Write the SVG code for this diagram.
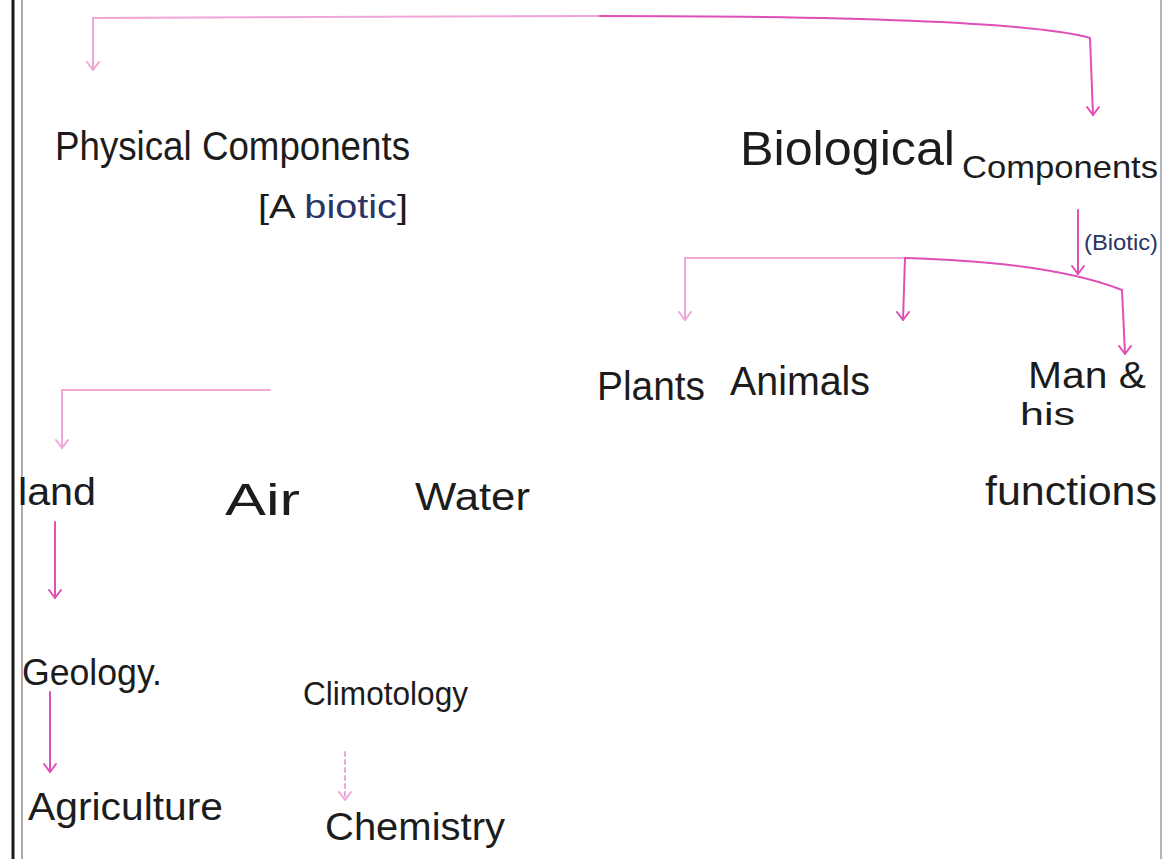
<svg xmlns="http://www.w3.org/2000/svg" width="1170" height="859" viewBox="0 0 1170 859">
<defs>
<style>
.t{font-family:"Liberation Sans","DejaVu Sans",sans-serif;fill:#1c1c1c}
.b{fill:#2a3566}
.c{fill:none;stroke:#e04fb5;stroke-width:2;stroke-linecap:round;stroke-linejoin:round}
.f{opacity:0.5}
.border{stroke-linecap:butt}
</style>
<marker id="ahd" markerWidth="14" markerHeight="12" refX="7" refY="10" orient="0" markerUnits="userSpaceOnUse" viewBox="0 0 14 12">
<path d="M1,2 L7,10 L13,2" fill="none" stroke="#e04fb5" stroke-width="2" stroke-linecap="round" stroke-linejoin="round"/>
</marker>
</defs>
<rect width="1170" height="859" fill="#ffffff"/>
<g id="page-borders" class="border">
<line x1="13" y1="0" x2="13" y2="859" stroke="#1a1a1a" stroke-width="3"/>
<line x1="22" y1="0" x2="22" y2="859" stroke="#777" stroke-width="1.2"/>
<line x1="1161" y1="0" x2="1161" y2="859" stroke="#9a9aa8" stroke-width="1.5"/>
</g>
<g id="connectors">
<path class="c f" d="M600,16 L93,18 L93,70" marker-end="url(#ahd)"/>
<path class="c" d="M600,16 Q1010,16 1090,38 L1093,115" marker-end="url(#ahd)"/>
<path class="c" d="M1078,210 L1078,274" marker-end="url(#ahd)"/>
<path class="c f" d="M905,258 L685,258 L685,320" marker-end="url(#ahd)"/>
<path class="c" d="M905,258 Q1050,262 1122,290 L1125,354" marker-end="url(#ahd)"/>
<path class="c" d="M905,258 L903,320" marker-end="url(#ahd)"/>
<path class="c f" d="M270,390 L62,390 L62,448" marker-end="url(#ahd)"/>
<path class="c" d="M55,522 L55,598" marker-end="url(#ahd)"/>
<path class="c" d="M50,692 L50,772" marker-end="url(#ahd)"/>
<path class="c f" d="M345,752 L345,800" marker-end="url(#ahd)" stroke-dasharray="4 4"/>
</g>
<g id="physical"><text class="t" x="55" y="160" font-size="40" textLength="355" lengthAdjust="spacingAndGlyphs">Physical Components</text></g>
<g id="abiotic"><text class="t" x="258" y="218" font-size="34" textLength="150" lengthAdjust="spacingAndGlyphs">[A <tspan class="b">biotic</tspan>]</text></g>
<g id="biological">
<text class="t" x="740" y="165" font-size="48" textLength="215" lengthAdjust="spacingAndGlyphs">Biological</text>
<text class="t" x="962" y="178" font-size="32" textLength="196" lengthAdjust="spacingAndGlyphs">Components</text>
</g>
<g id="biotic"><text class="t b" x="1084" y="250" font-size="22" textLength="74" lengthAdjust="spacingAndGlyphs">(Biotic)</text></g>
<g id="plants"><text class="t" x="597" y="400" font-size="40" textLength="108" lengthAdjust="spacingAndGlyphs">Plants</text></g>
<g id="animals"><text class="t" x="730" y="395" font-size="40" textLength="140" lengthAdjust="spacingAndGlyphs">Animals</text></g>
<g id="man">
<text class="t" x="1028" y="388" font-size="36" textLength="118" lengthAdjust="spacingAndGlyphs">Man &amp;</text>
<text class="t" x="1020" y="425" font-size="32" textLength="55" lengthAdjust="spacingAndGlyphs">his</text>
<text class="t" x="985" y="505" font-size="40" textLength="172" lengthAdjust="spacingAndGlyphs">functions</text>
</g>
<g id="land"><text class="t" x="18" y="505" font-size="38" textLength="78" lengthAdjust="spacingAndGlyphs">land</text></g>
<g id="air"><text class="t" x="225" y="515" font-size="44" textLength="75" lengthAdjust="spacingAndGlyphs">Air</text></g>
<g id="water"><text class="t" x="415" y="510" font-size="38" textLength="115" lengthAdjust="spacingAndGlyphs">Water</text></g>
<g id="geology"><text class="t" x="22" y="685" font-size="36" textLength="140" lengthAdjust="spacingAndGlyphs">Geology.</text></g>
<g id="climatology"><text class="t" x="303" y="705" font-size="33" textLength="165" lengthAdjust="spacingAndGlyphs">Climotology</text></g>
<g id="agriculture"><text class="t" x="28" y="820" font-size="38" textLength="195" lengthAdjust="spacingAndGlyphs">Agriculture</text></g>
<g id="chemistry"><text class="t" x="325" y="840" font-size="38" textLength="180" lengthAdjust="spacingAndGlyphs">Chemistry</text></g>
</svg>
